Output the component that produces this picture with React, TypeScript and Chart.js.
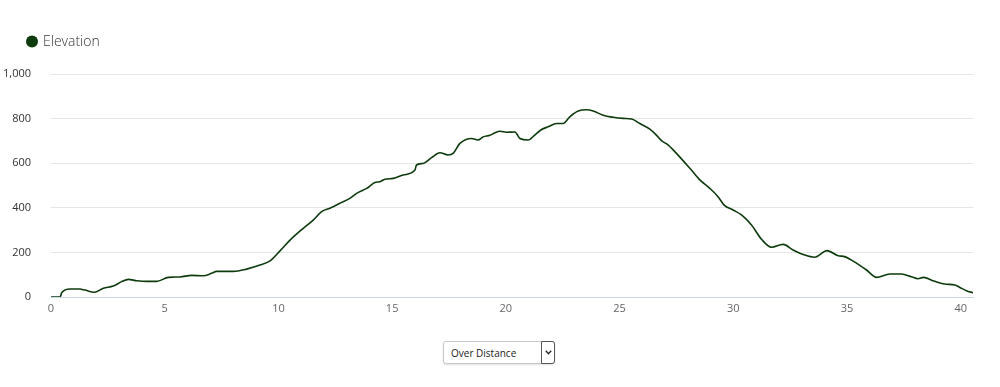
import React, { useEffect, useRef } from "react";
import { Chart, registerables } from "chart.js";

Chart.register(...registerables);

const distanceKm = [
  0, 0.4, 0.47, 0.84, 1.27, 1.49, 1.9, 2.3, 2.74, 3.11, 3.4, 3.77, 4.2, 4.64,
  5.16, 5.67, 6.18, 6.69, 7.06, 7.28, 8.01, 8.6, 9.19, 9.63, 10.07, 10.51,
  11.09, 11.53, 11.9, 12.26, 12.7, 13.14, 13.44, 13.88, 14.24, 14.46, 14.68,
  15.05, 15.49, 16.0, 16.07, 16.36, 16.73, 17.1, 17.46, 17.68, 17.98, 18.49,
  18.78, 19.0, 19.3, 19.5, 19.74, 20.03, 20.4, 20.62, 20.98, 21.27, 21.57,
  21.86, 22.23, 22.52, 22.81, 23.18, 23.55, 23.84, 24.28, 24.72, 25.16, 25.53,
  25.89, 26.33, 26.62, 26.84, 27.13, 27.5, 28.09, 28.53, 28.97, 29.33, 29.6,
  29.99, 30.36, 30.8, 31.24, 31.68, 32.19, 32.63, 33.14, 33.58, 34.12, 34.61,
  34.9, 35.27, 35.86, 36.3, 36.88, 37.39, 37.83, 38.12, 38.37, 38.78, 39.3,
  39.74, 39.96, 40.25, 40.54,
];

const elevationM = [
  0, 0, 19, 36, 36, 31, 21, 39, 49, 69, 79, 73, 70, 70,
  88, 90, 97, 95, 106, 115, 115, 125, 143, 162, 207, 255,
  308, 345, 383, 398, 420, 442, 465, 487, 513, 517, 528,
  532, 547, 569, 592, 599, 625, 647, 637, 644, 689, 711,
  704, 718, 725, 735, 743, 739, 740, 711, 704, 726, 751,
  763, 778, 778, 808, 834, 840, 834, 815, 806, 801, 798,
  778, 753, 726, 701, 682, 644, 577, 525, 487, 450, 412,
  390, 368, 323, 259, 223, 236, 211, 188, 178, 208, 185,
  181, 161, 121, 88, 103, 103, 91, 82, 88, 73, 58,
  54, 43, 28, 19,
];

const seriesLabel = "Elevation";
const xTickStep = 5;
const yTickStep = 200;
const yMax = 1000;
const selectOptions = ["Over Distance", "Over Time"];

const LINE_COLOR = "#0d3b0d";

const legendPlugin = {
  id: "customLegend",
  afterDraw(chart: any) {
    const ctx = chart.ctx;
    const ds = chart.data.datasets[0];
    ctx.save();
    ctx.fillStyle = ds.borderColor;
    ctx.beginPath();
    ctx.arc(32, 41.5, 6, 0, Math.PI * 2);
    ctx.fill();
    ctx.fillStyle = "#333333";
    ctx.font = "300 14px 'Open Sans'";
    ctx.textBaseline = "middle";
    ctx.textAlign = "left";
    ctx.fillText(ds.label, 43, 42);
    ctx.restore();
  },
};

export default function App() {
  const canvasRef = useRef<HTMLCanvasElement | null>(null);

  useEffect(() => {
    if (!canvasRef.current) return;
    const chart = new Chart(canvasRef.current, {
      type: "line",
      data: {
        datasets: [
          {
            label: seriesLabel,
            data: distanceKm.map((d, i) => ({ x: d, y: elevationM[i] })),
            borderColor: LINE_COLOR,
            backgroundColor: LINE_COLOR,
            borderWidth: 1.6,
            pointRadius: 0,
            cubicInterpolationMode: "monotone",
            fill: false,
          },
        ],
      },
      options: {
        animation: false,
        responsive: false,
        maintainAspectRatio: false,
        layout: { padding: { top: 74, left: 0, right: 27, bottom: 0 } },
        plugins: {
          legend: { display: false },
          tooltip: { enabled: false },
        },
        scales: {
          x: {
            type: "linear",
            min: 0,
            max: distanceKm[distanceKm.length - 1],
            ticks: {
              stepSize: xTickStep,
              includeBounds: false,
              color: "#666666",
              font: { family: "'Open Sans'", size: 11 },
              padding: 5,
              maxRotation: 0,
            },
            grid: { display: false, drawTicks: false },
            border: { display: true, color: "#ccd6eb", width: 1 },
            afterFit: (s: any) => {
              s.height = 33;
            },
          },
          y: {
            min: 0,
            max: yMax,
            ticks: {
              stepSize: yTickStep,
              color: "#333333",
              font: { family: "'Open Sans'", size: 11 },
              padding: 20,
              callback: (v: any) => Number(v).toLocaleString("en-US"),
            },
            grid: {
              drawTicks: false,
              color: (c: any) => (c.tick && c.tick.value === 0 ? "#ccd6eb" : "#e6e6e6"),
              lineWidth: 1,
            },
            border: { display: false },
            afterFit: (s: any) => {
              s.width = 51;
            },
          },
        },
      },
      plugins: [legendPlugin],
    });
    return () => chart.destroy();
  }, []);

  return (
    <div
      style={{
        position: "absolute",
        left: 0,
        top: 0,
        width: 1000,
        height: 387,
        background: "#ffffff",
        fontFamily: "'Open Sans', sans-serif",
      }}
    >
      <canvas ref={canvasRef} width={1000} height={330} style={{ display: "block" }} />
      <div style={{ position: "absolute", left: 443, top: 341, width: 112, height: 23 }}>
        <select
          defaultValue={selectOptions[0]}
          style={{
            appearance: "none",
            WebkitAppearance: "none",
            position: "absolute",
            left: 0,
            top: 0,
            width: 112,
            height: 23,
            fontSize: 10,
            fontFamily: "'Open Sans', sans-serif",
            color: "#222",
            border: "1px solid #c8c8c8",
            borderRadius: 3,
            background: "#fff",
            paddingLeft: 7,
            boxSizing: "border-box",
            boxShadow: "0 1px 2px rgba(0,0,0,0.12)",
          }}
        >
          {selectOptions.map((o) => (
            <option key={o} value={o}>
              {o}
            </option>
          ))}
        </select>
        <div
          style={{
            position: "absolute",
            left: 98,
            top: 0,
            width: 14,
            height: 23,
            boxSizing: "border-box",
            border: "1px solid #555",
            borderRadius: "0 3px 3px 0",
            background: "#fff",
            pointerEvents: "none",
            display: "flex",
            alignItems: "center",
            justifyContent: "center",
          }}
        >
          <svg width="7" height="5" viewBox="0 0 7 5">
            <path d="M0.8 0.8 L3.5 3.8 L6.2 0.8" fill="none" stroke="#222" strokeWidth="1.3" />
          </svg>
        </div>
      </div>
    </div>
  );
}
